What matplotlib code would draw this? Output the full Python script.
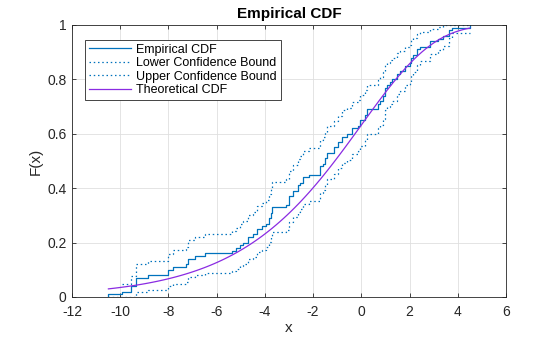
import numpy as np
import matplotlib
matplotlib.use("Agg")
import matplotlib.pyplot as plt

plt.rcParams["font.family"] = ["Liberation Sans", "DejaVu Sans"]
plt.rcParams["axes.unicode_minus"] = False

# Sorted observations (jump locations) and cumulative counts after each jump
jump_x = [-10.49, -9.94, -9.55, -9.35, -8.86, -8.00, -7.80, -7.27, -7.17, -6.90,
          -6.48, -5.38, -5.20, -5.03, -4.89, -4.69, -4.51, -4.34, -4.13, -3.95,
          -3.82, -3.76, -3.72, -3.12, -2.99, -2.82, -2.61, -2.54, -2.40, -2.16,
          -1.71, -1.58, -1.50, -1.44, -1.13, -0.95, -0.82, -0.61, -0.40, -0.13,
          -0.06, 0.15, 0.22, 0.71, 0.78, 0.91, 0.98, 1.05, 1.19, 1.26,
          1.46, 1.60, 1.81, 2.02, 2.08, 2.15, 2.29, 2.43, 2.84, 3.19,
          3.40, 3.65, 3.75, 4.50]
cum_count = [1, 2, 4, 7, 8, 10, 11, 12, 14, 15,
             16, 17, 18, 19, 20, 22, 23, 25, 26, 27,
             29, 31, 33, 34, 37, 39, 41, 42, 44, 45,
             48, 49, 51, 53, 55, 57, 59, 60, 62, 63,
             65, 67, 69, 71, 72, 74, 77, 78, 79, 80,
             82, 83, 85, 86, 88, 89, 91, 92, 94, 95,
             96, 98, 99, 100]
n_obs = 100

# Extreme value distribution parameters for the theoretical curve
ev_mu = 0.0
ev_sigma = 3.0

x = np.array([jump_x[0]] + jump_x)
F = np.array([0] + cum_count) / n_obs

# Greenwood-type 95% pointwise bounds
half = 1.959964 * np.sqrt(F * (1 - F) / n_obs)
flo = np.maximum(0, F - half)
fup = np.minimum(1, F + half)
fup[:2] = np.nan
flo[-1] = np.nan
fup[-1] = np.nan

xt = np.linspace(min(jump_x), max(jump_x), 100)
Ft = 1 - np.exp(-np.exp((xt - ev_mu) / ev_sigma))

fig = plt.figure(figsize=(5.6, 3.37), dpi=100)
ax = fig.add_axes([72 / 560, 1 - 297 / 337, 434 / 560, 272 / 337])

blue = "#0072BD"
purple = "#8A2BE2"
dot = (0, (1.2, 2.2))
ax.step(x, F, where="post", color=blue, lw=0.9, label="Empirical CDF")
ax.step(x, flo, where="post", color=blue, lw=0.9, ls=dot, label="Lower Confidence Bound")
ax.step(x, fup, where="post", color=blue, lw=0.9, ls=dot, label="Upper Confidence Bound")
ax.plot(xt, Ft, color=purple, lw=0.9, label="Theoretical CDF")

ax.set_xlim(-12, 6)
ax.set_ylim(0, 1)
ax.set_xticks(np.arange(-12, 7, 2))
ax.set_yticks([0, 0.2, 0.4, 0.6, 0.8, 1])
ax.set_yticklabels(["0", "0.2", "0.4", "0.6", "0.8", "1"])
ax.grid(True, color="#DFDFDF", lw=0.6)
ax.set_axisbelow(True)
ax.tick_params(direction="in", top=True, right=True, length=3, width=0.6,
               labelsize=10, colors="#262626")
ax.tick_params(axis="x", pad=5.5)
ax.tick_params(axis="y", pad=4)
for s in ax.spines.values():
    s.set_linewidth(0.6)
    s.set_color("#262626")

ax.set_title("Empirical CDF", fontsize=11, fontweight="bold", color="#000000", pad=5)
ax.set_xlabel("x", fontsize=11, color="#262626", labelpad=2)
ax.set_ylabel("F(x)", fontsize=11, color="#262626", labelpad=3)

leg = ax.legend(loc="upper left", bbox_to_anchor=(0.03, 0.945), fontsize=9,
                frameon=True, fancybox=False, framealpha=1, edgecolor="#262626",
                handlelength=3.4, handletextpad=0.4, borderpad=0.3,
                labelspacing=0.12, borderaxespad=0)
leg.get_frame().set_linewidth(0.6)

fig.savefig("out.png", dpi=100)
